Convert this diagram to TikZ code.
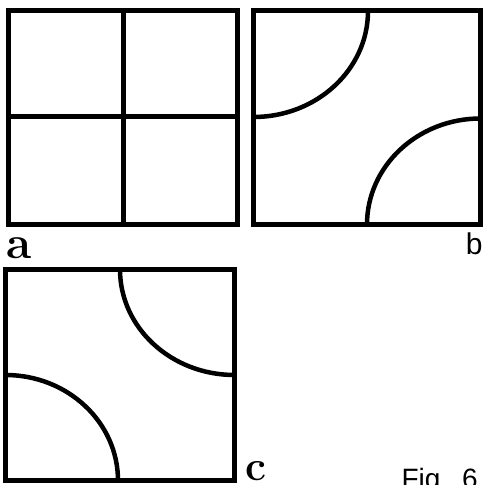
\documentclass[tikz,border=0pt]{standalone}
\usepackage{fontspec}
\setsansfont{Liberation Sans}
\begin{document}
\begin{tikzpicture}[x=1pt, y=1pt, line width=5pt, every node/.style={inner sep=0pt}]
  \useasboundingbox (0,0) rectangle (486,484);
  % frames
  \foreach \x/\y/\X/\Y in {8/473.5/237.5/259.5, 253.5/473/480.5/259.5, 5.5/214.5/234.5/3.5}
    \draw (\x,\y) rectangle (\X,\Y);
  % a: straight cross
  \draw (123,473.5) -- (123,259.5);
  \draw (8,367) -- (237.5,367);
  % b, c: quarter arcs round the corners
  \draw[line width=4.5pt] (368,473) arc[start angle=0, end angle=-90, x radius=114.5pt, y radius=106pt];
  \draw[line width=4.5pt] (367,259.5) arc[start angle=180, end angle=90, x radius=113.5pt, y radius=106pt];
  \draw[line width=4.5pt] (120,214.5) arc[start angle=180, end angle=270, x radius=114.5pt, y radius=105.5pt];
  \draw[line width=4.5pt] (5.5,109) arc[start angle=90, end angle=0, x radius=112.5pt, y radius=105.5pt];
  % labels
  \node[anchor=base west, font=\fontsize{46}{46}\selectfont\bfseries] (lblA) at (4,225) {a};
  \node[anchor=base east, font=\fontsize{30}{30}\selectfont\sffamily] (lblB) at (485,229) {b};
  \node[anchor=base west, font=\fontsize{42}{42}\selectfont\bfseries] (lblC) at (243,4) {c};
  \node[anchor=base west, font=\fontsize{28}{28}\selectfont\sffamily] (figno) at (399,-4) {Fig.\hspace{14pt}6};
\end{tikzpicture}
\end{document}
